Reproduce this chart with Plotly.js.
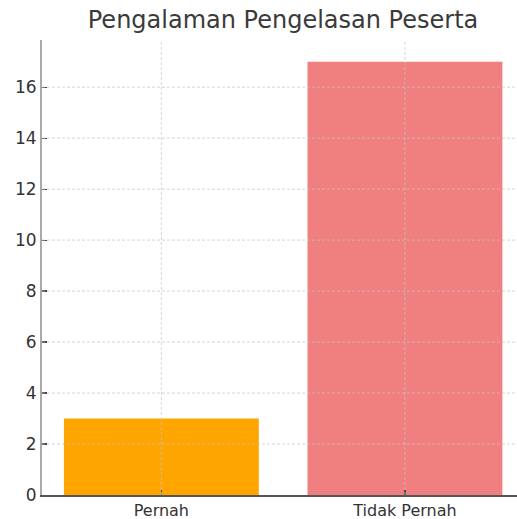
<!DOCTYPE html>
<html>
<head>
<meta charset="utf-8">
<script src="https://cdn.plot.ly/plotly-3.0.1.min.js"></script>
<style>html,body{margin:0;padding:0;overflow:hidden;background:#fff;}</style>
</head>
<body>
<div id="chart" style="width:517px;height:519px;"></div>
<script>
const categories = ["Pernah", "Tidak Pernah"];
const counts = [3, 17];
const barColors = ["#FFA500", "#F08080"];
const yTicks = [0, 2, 4, 6, 8, 10, 12, 14, 16];

const gridColor = "rgba(195,195,195,0.7)";
const shapes = [];
yTicks.forEach(v => {
  if (v === 0) return;
  shapes.push({type: "line", xref: "paper", yref: "y", x0: 0, x1: 1, y0: v, y1: v,
    line: {color: gridColor, width: 1, dash: "3px,2px"}, layer: "above"});
});
categories.forEach(c => {
  shapes.push({type: "line", xref: "x", yref: "paper", x0: c, x1: c, y0: 0, y1: 1,
    line: {color: gridColor, width: 1, dash: "3px,2px"}, layer: "above"});
});

const data = [{
  type: "bar",
  x: categories,
  y: counts,
  width: 0.8,
  marker: {color: barColors, line: {width: 0}},
  hoverinfo: "x+y"
}];

const layout = {
  width: 517, height: 519,
  margin: {l: 42, r: 0, t: 40, b: 24},
  paper_bgcolor: "#fff", plot_bgcolor: "#fff",
  font: {family: "DejaVu Sans", color: "#333", size: 17},
  title: {text: "Pengalaman Pengelasan Peserta", x: 283/517, xref: "container", xanchor: "center",
    y: 1 - 20/519, yanchor: "middle", yref: "container",
    font: {family: "DejaVu Sans", size: 24, color: "#3a3a3a"}},
  xaxis: {
    type: "category", range: [-0.49, 1.46],
    showgrid: false, zeroline: false,
    showline: true, linecolor: "#555", linewidth: 1.5,
    ticks: "inside", ticklen: 5, tickcolor: "#444", tickwidth: 1.2,
    ticklabelstandoff: 0,
    tickfont: {family: "DejaVu Sans", size: 16, color: "#333"}
  },
  yaxis: {
    range: [0, 17.85], tickvals: yTicks, ticktext: yTicks.map(String),
    showgrid: false, zeroline: false,
    showline: true, linecolor: "#aaa", linewidth: 2,
    ticks: "inside", ticklen: 5, tickcolor: "#444", tickwidth: 1.2,
    tickfont: {family: "DejaVu Sans", size: 17, color: "#333"}
  },
  shapes: shapes,
  bargap: 0.2,
  showlegend: false
};

Plotly.newPlot("chart", data, layout, {displayModeBar: false, staticPlot: true});
</script>
</body>
</html>
